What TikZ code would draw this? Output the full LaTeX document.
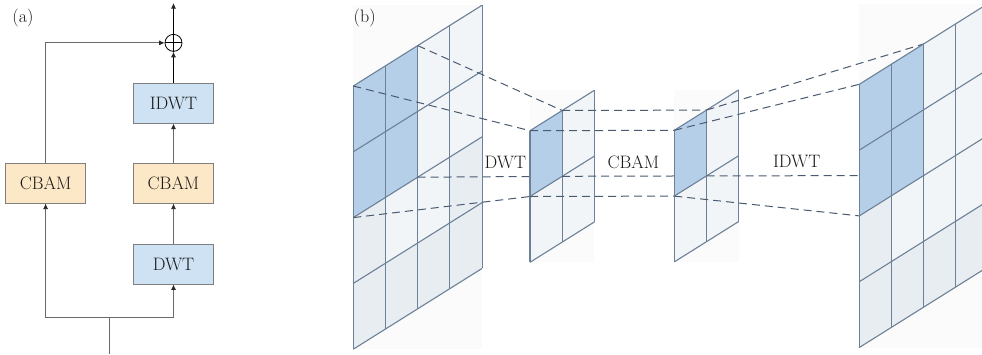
\documentclass[tikz,border=0pt]{standalone}
\usepackage{fontspec}
\usetikzlibrary{arrows.meta}
\usetikzlibrary{positioning}
\definecolor{boxblue}{HTML}{CFE2F3}
\definecolor{boxorange}{HTML}{FCE8C6}
\definecolor{boxline}{HTML}{7F7F7F}
\definecolor{wirecol}{HTML}{6A6A6A}
\definecolor{gridcol}{HTML}{6C8197}
\definecolor{cellfill}{HTML}{F2F5F8}
\definecolor{celldark}{HTML}{E8EDF2}
\definecolor{cellblue}{HTML}{A6C6E6}
\definecolor{dashcol}{HTML}{4A5A70}
\tikzstyle{box}=[draw=boxline, line width=0.9pt, minimum width=80pt,
minimum height=40pt, inner sep=0pt, text=black!90, font=\fontsize{18}{21}\selectfont]
\tikzstyle{wave}=[box, fill=boxblue]
\tikzstyle{attn}=[box, fill=boxorange]
\tikzstyle{myarrow}=[-{Latex[length=5.5pt,width=5pt,color=black!85]}, line width=0.8pt, draw=wirecol]
\tikzstyle{mainarrow}=[myarrow, draw=black]
\tikzstyle{wire}=[line width=0.8pt, draw=wirecol]
\tikzstyle{tag}=[font=\fontsize{18}{21}\selectfont, text=black!90, inner sep=0pt]
\tikzstyle{link}=[draw=dashcol, line width=1pt, dash pattern=on 8pt off 5pt]
\tikzstyle{gridbg}=[fill=black!1.5]
\tikzstyle{gridl}=[draw=gridcol, line width=1.1pt]
% size of one cell and the rise of the slanted edges
\newcommand{\gridw}{32.2}
\newcommand{\gridh}{65.8}
\newcommand{\gridk}{20.2}
% #1 name, #2 #3 top left corner, #4 columns, #5 rows
\newcommand{\gridback}[5]{%
  \fill[gridbg] (#2,{#3-#4*\gridk}) rectangle ({#2+#4*\gridw},{#3+#5*\gridh});
  \coordinate (#1-tl) at (#2,#3);
  \coordinate (#1-tr) at ({#2+#4/2*\gridw},{#3-#4/2*\gridk});
  \coordinate (#1-bl) at (#2,{#3+#5/2*\gridh});
  \coordinate (#1-br) at ({#2+#4/2*\gridw},{#3+#5/2*\gridh-#4/2*\gridk});
}
% [#1 darker cells i/j], #2 #3 top left corner, #4 columns, #5 rows
\newcommand{\gridcells}[5][]{%
  \fill[cellfill] (#2,#3) -- ++({#4*\gridw},{-#4*\gridk}) -- ++(0,{#5*\gridh})
    -- ++({-#4*\gridw},{#4*\gridk}) -- cycle;
  \if\relax\detokenize{#1}\relax\else
  \foreach \i/\j in {#1}
    \fill[celldark] ({#2+\i*\gridw},{#3+\j*\gridh-\i*\gridk}) -- ++(\gridw,-\gridk)
      -- ++(0,\gridh) -- ++(-\gridw,\gridk) -- cycle;
  \fi
  \fill[cellblue, fill opacity=0.8] (#2,#3) -- ++({#4/2*\gridw},{-#4/2*\gridk})
    -- ++(0,{#5/2*\gridh}) -- ++({-#4/2*\gridw},{#4/2*\gridk}) -- cycle;
  \foreach \i in {0,...,#4}
    \draw[gridl] ({#2+\i*\gridw},{#3-\i*\gridk}) -- ++(0,{#5*\gridh});
  \foreach \j in {0,...,#5}
    \draw[gridl] (#2,{#3+\j*\gridh}) -- ++({#4*\gridw},{-#4*\gridk});
}

\begin{document}
\begin{tikzpicture}[x=1pt, y=-1pt]
    \path[use as bounding box, clip] (0,0) rectangle (982,354);

    % (a)
    \node[tag] (lbla) at (23,18) {(a)};
    \node[wave] (dwt) at (173.5,264) {DWT};
    \node[attn, above=40pt of dwt] (cbam2) {CBAM};
    \node[wave, above=39pt of cbam2] (idwt) {IDWT};
    \node[draw, circle, minimum size=17pt, inner sep=0pt, line width=0.8pt,
      above=31pt of idwt] (plus) {};
    \draw[line width=0.8pt] (plus.north) -- (plus.south) (plus.west) -- (plus.east);
    \node[attn, left=47pt of cbam2] (cbam1) {CBAM};
    \coordinate (in) at (109.3,354);
    \coordinate (split) at (109.3,317);
    \coordinate (out) at (173.5,3);

    \draw[wire] (in) -- (split);
    \draw[myarrow] (split) -| (dwt);
    \draw[myarrow] (split) -| (cbam1);
    \draw[myarrow] (cbam1) |- (plus);
    \draw[myarrow] (dwt) -- (cbam2);
    \draw[myarrow] (cbam2) -- (idwt);
    \draw[mainarrow] (idwt) -- (plus);
    \draw[mainarrow] (plus) -- (out);

    % (b)
    \gridback{L}{353.3}{86}{4}{4}
    \gridback{G1}{530}{130.7}{2}{2}
    \gridback{G2}{674.3}{130.3}{2}{2}
    \gridback{R}{859.3}{84.3}{4}{4}

    \gridcells[0/2,3/2,0/3,1/3,2/3,3/3]{353.3}{86}{4}{4}
    \draw[link] (L-tl) -- (G1-tl);
    \draw[link] (L-tr) -- (G1-tr);
    \draw[link] (L-bl) -- (G1-bl);
    \draw[link] (L-br) -- (G1-br);

    \gridcells{530}{130.7}{2}{2}
    \draw[link] (G1-tl) -- (G2-tl);
    \draw[link] (G1-tr) -- (G2-tr);
    \draw[link] (G1-bl) -- (G2-bl);
    \draw[link] (G1-br) -- (G2-br);

    \gridcells{674.3}{130.3}{2}{2}
    \draw[link] (G2-tl) -- (R-tl);
    \draw[link] (G2-tr) -- (R-tr);
    \draw[link] (G2-bl) -- (R-bl);
    \draw[link] (G2-br) -- (R-br);

    \gridcells[0/2,0/3,1/3,2/3,3/3]{859.3}{84.3}{4}{4}

    \node[tag] (lblb) at (364.7,18) {(b)};
    \node[tag] (dwtlbl) at (505.3,162) {DWT};
    \node[tag] (cbamlbl) at (633.3,162.5) {CBAM};
    \node[tag] (idwtlbl) at (796.7,161.7) {IDWT};
\end{tikzpicture}
\end{document}
